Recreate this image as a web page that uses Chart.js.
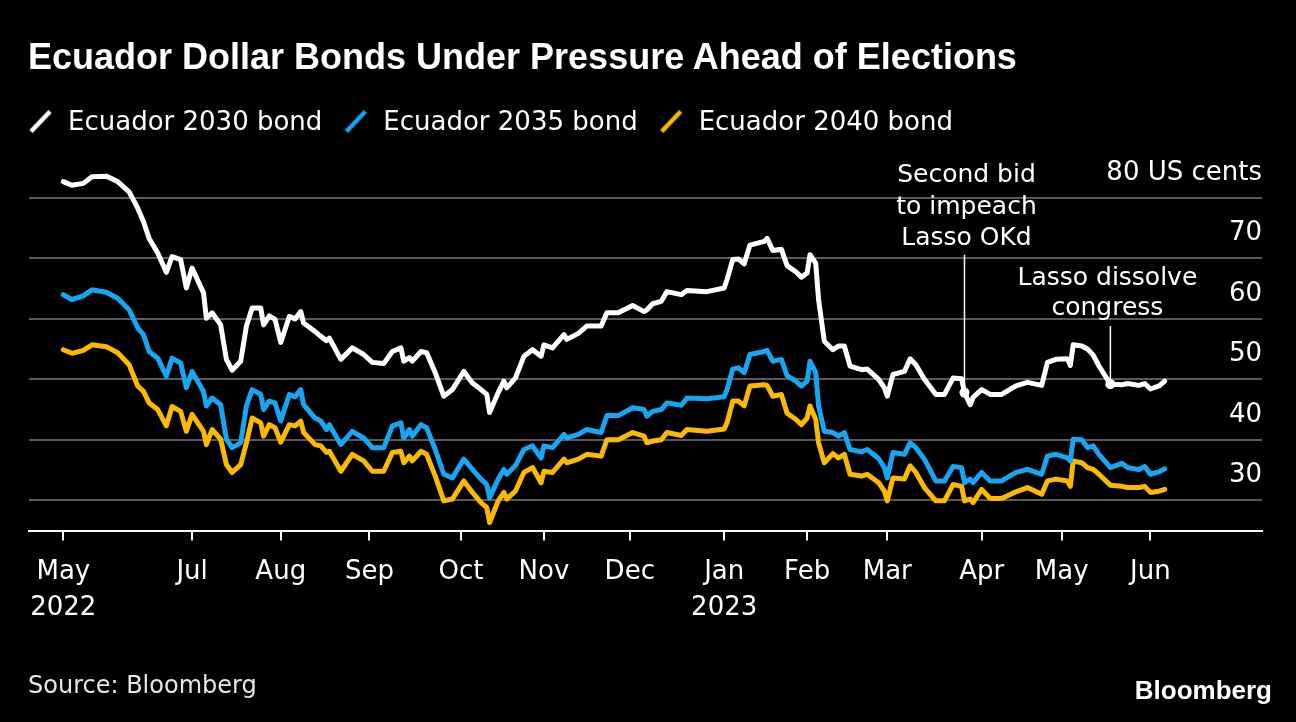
<!DOCTYPE html>
<html>
<head>
<meta charset="utf-8">
<script src="https://cdn.jsdelivr.net/npm/chart.js@4.4.0/dist/chart.umd.min.js"></script>
<style>
  body { margin: 0; background: #000; }
  #wrap { position: relative; width: 1296px; height: 722px; background: #000; overflow: hidden; }
  #title { position: absolute; left: 28px; top: 36px; margin: 0; font: bold 36px/42px "Liberation Sans", Arial, sans-serif; color: #fff; white-space: nowrap; }
  #source { position: absolute; left: 28px; top: 671px; font: 24px/28px "DejaVu Sans", sans-serif; color: #e6e6e6; }
  #logo { position: absolute; right: 24px; top: 676px; font: bold 26px/29px "Liberation Sans", Arial, sans-serif; color: #fff; }
  canvas { position: absolute; left: 0; top: 0; }
</style>
</head>
<body>
<div id="wrap">
  <canvas id="chart" width="1296" height="722"></canvas>
  <h1 id="title">Ecuador Dollar Bonds Under Pressure Ahead of Elections</h1>
  <div id="source">Source: Bloomberg</div>
  <div id="logo">Bloomberg</div>
</div>
<script>
// days since 17 May 2022
const days = [0, 3, 7, 10, 15, 19, 23, 26, 28, 30, 33, 36, 38, 41, 43, 45, 49, 50, 52, 55,
  57, 59, 62, 64, 66, 69, 70, 72, 74, 76, 79, 81, 83, 84, 88,
  90, 92, 93, 97, 101, 105, 108, 112, 115, 118, 119, 121, 122, 125, 127, 130, 133, 136, 140, 143,
  146, 148, 149, 152, 154, 155, 158, 161, 164, 167, 168, 171, 175, 176, 180, 183,
  188, 190, 194, 199, 203, 204, 206, 209, 211, 216, 218, 225, 231, 232, 234, 236, 238, 240, 245, 246,
  248, 251, 253, 256, 258, 260, 261, 263, 264, 266, 269, 271, 273, 275, 279, 281, 285, 287, 288, 290,
  294, 296, 298, 301, 305, 308, 311, 314, 315, 317, 318, 321, 324, 328, 333, 337, 342, 344, 347, 351,
  352, 353, 356, 358, 360, 362, 366, 370, 372, 376, 378, 380, 383, 385];

const bond2030 = [82.7, 82.1, 82.4, 83.5, 83.6, 82.7, 81.0, 78.3, 76.1, 73.3,
  70.9, 67.7, 70.3, 69.8, 65.1, 68.4, 64.3, 60.1, 61.0, 59.0,
  53.3, 51.5, 53.0, 58.8, 61.8, 61.8, 59.0, 60.5, 59.9, 56.1,
  60.4, 60.0, 61.2, 59.3, 57.9,
  57.1, 56.4, 56.8, 53.3, 55.2, 54.1, 52.8, 52.6, 54.6, 55.2,
  53.0, 53.6, 53.0, 54.6, 54.4, 51.1, 47.2, 48.3, 51.3, 49.4,
  48.3, 47.5, 44.5, 47.8, 49.7, 48.6, 50.2, 53.8, 54.9, 53.8,
  55.7, 55.2, 57.4, 56.6, 57.6, 58.8,
  58.8, 61.0, 61.0, 62.2, 61.2, 61.5, 62.5, 62.9, 64.5, 64.0,
  64.7, 64.5, 65.1, 66.5, 69.8, 69.9, 69.1, 72.2, 72.8, 73.3,
  71.3, 71.5, 68.8, 67.8, 66.9, 67.6, 70.6, 69.2, 63.2, 56.3,
  54.9, 55.5, 55.5, 52.2, 51.6, 51.7, 50.0, 48.6, 47.2, 50.8,
  51.3, 53.4, 52.4, 50.0, 47.5, 47.5, 50.2, 50.1, 47.8, 45.8,
  47.0, 48.3, 47.5, 47.5, 48.9, 49.5, 49.0, 52.8, 53.3, 53.4,
  52.3, 55.7, 55.5, 55.0, 54.0, 52.2, 49.2, 49.1, 49.3, 49.0,
  49.3, 48.4, 48.9, 49.7];

const bond2035 = [64.0, 63.2, 63.8, 64.8, 64.4, 63.4, 61.5, 58.5, 57.4, 54.6,
  53.5, 50.5, 53.5, 52.7, 48.6, 51.3, 48.0, 45.6, 46.9, 45.8,
  40.1, 38.7, 39.5, 45.6, 48.3, 47.5, 45.0, 46.4, 46.1, 43.1,
  47.5, 47.1, 48.3, 45.8, 43.6,
  43.1, 41.7, 42.5, 39.2, 41.4, 40.3, 38.7, 38.7, 42.3, 42.8,
  40.3, 41.7, 40.6, 42.5, 42.0, 38.4, 34.3, 33.7, 36.8, 35.1,
  33.5, 32.6, 30.4, 33.5, 35.1, 34.3, 35.7, 38.4, 39.0, 37.0,
  39.0, 38.7, 40.9, 40.3, 40.9, 41.7,
  41.2, 44.0, 44.0, 45.3, 45.0, 43.9, 44.7, 45.0, 46.1, 45.7,
  46.9, 46.8, 47.1, 48.3, 51.7, 51.9, 51.1, 54.1, 54.6, 54.8,
  53.0, 53.3, 50.6, 49.7, 48.9, 49.7, 53.0, 51.1, 45.6, 41.4,
  41.2, 40.6, 41.2, 38.4, 38.0, 38.4, 36.9, 35.4, 33.7, 37.9,
  37.6, 39.5, 38.7, 36.8, 33.2, 33.2, 35.6, 35.4, 32.9, 33.5,
  32.9, 34.6, 33.2, 33.2, 34.6, 35.1, 34.3, 37.3, 37.6, 37.0,
  36.5, 40.1, 40.0, 38.7, 39.0, 37.6, 35.4, 36.1, 35.4, 35.1,
  35.6, 34.3, 34.7, 35.2];

const bond2040 = [54.9, 54.3, 54.8, 55.7, 55.4, 54.4, 52.4, 48.9, 48.0, 46.1,
  45.0, 42.3, 45.5, 44.7, 41.4, 44.2, 41.4, 39.2, 41.7, 40.1,
  35.9, 34.6, 35.9, 39.5, 43.6, 42.8, 40.6, 42.5, 42.0, 39.6,
  42.5, 42.3, 43.1, 41.2, 39.2,
  39.0, 37.9, 38.1, 34.8, 37.6, 36.5, 34.8, 34.8, 37.9, 38.1,
  36.2, 37.3, 36.5, 38.1, 37.6, 34.0, 29.9, 30.2, 33.2, 31.3,
  29.6, 28.8, 26.3, 29.9, 31.3, 30.2, 31.5, 34.6, 35.4, 32.9,
  34.8, 34.6, 36.8, 36.2, 36.8, 37.6,
  37.3, 40.0, 40.0, 41.2, 40.6, 39.5, 39.8, 40.0, 41.2, 40.7,
  41.7, 41.4, 41.8, 42.8, 46.4, 46.4, 45.6, 48.9, 49.1, 49.0,
  47.2, 47.5, 44.4, 43.4, 42.5, 43.6, 45.6, 43.4, 39.5, 36.2,
  37.7, 37.0, 37.6, 34.3, 34.0, 34.3, 32.9, 31.5, 29.9, 33.7,
  33.5, 35.7, 34.6, 32.1, 29.9, 29.9, 32.6, 32.3, 29.9, 30.2,
  29.6, 31.8, 30.3, 30.3, 31.4, 32.1, 31.0, 33.2, 33.5, 33.2,
  32.3, 36.5, 36.2, 35.4, 35.1, 34.3, 32.5, 32.3, 32.1, 32.1,
  32.3, 31.3, 31.5, 31.8];

const seriesNames = ['Ecuador 2030 bond', 'Ecuador 2035 bond', 'Ecuador 2040 bond'];
const seriesColors = ['#ffffff', '#17a6f2', '#fbb900'];

// first tick on the first data point, then first trading day of each month
const tickDays = [0, 45, 76, 107, 139, 168, 198, 231, 260, 288, 321, 349, 380];
const tickLabels = [['May', '2022'], 'Jul', 'Aug', 'Sep', 'Oct', 'Nov', 'Dec', ['Jan', '2023'], 'Feb', 'Mar', 'Apr', 'May', 'Jun'];
const yTicks = [30, 40, 50, 60, 70, 80];

const notes = [
  {day: 315, lines: ['Second bid', 'to impeach', 'Lasso OKd'], textAt: 82.6, gap: 31.5, dx: 2, lineTop: 70.6},
  {day: 366, lines: ['Lasso dissolve', 'congress'], textAt: 65.6, gap: 29.7, dx: -3, lineTop: 58.8}
];

Chart.defaults.font.family = '"DejaVu Sans", sans-serif';
Chart.defaults.color = '#fff';

// legend marker: slanted stroke
function slash(color) {
  const c = document.createElement('canvas');
  c.width = 26;
  c.height = 30;
  const g = c.getContext('2d');
  g.strokeStyle = color;
  g.lineWidth = 4.5;
  g.beginPath();
  g.moveTo(2, 23);
  g.lineTo(21, 3);
  g.stroke();
  return c;
}

const annotate = {
  id: 'annotate',
  afterDatasetsDraw(chart) {
    const {ctx, scales: {x, y}} = chart;
    ctx.save();
    notes.forEach(n => {
      const i = days.indexOf(n.day);
      const px = x.getPixelForValue(n.day);
      const py = y.getPixelForValue(bond2030[i]);
      ctx.strokeStyle = '#fff';
      ctx.lineWidth = 1.5;
      ctx.beginPath();
      ctx.moveTo(px, y.getPixelForValue(n.lineTop));
      ctx.lineTo(px, py);
      ctx.stroke();
      ctx.fillStyle = '#fff';
      ctx.beginPath();
      ctx.arc(px, py, 5, 0, Math.PI * 2);
      ctx.fill();
      ctx.font = '25px "DejaVu Sans"';
      ctx.textAlign = 'center';
      ctx.textBaseline = 'alphabetic';
      const ty = y.getPixelForValue(n.textAt);
      n.lines.forEach((t, k) => ctx.fillText(t, px + n.dx, ty + k * n.gap));
    });
    ctx.restore();
  }
};

const seriesData = [bond2030, bond2035, bond2040];

new Chart('chart', {
  type: 'line',
  data: {
    datasets: seriesData.map((vals, k) => ({
      label: seriesNames[k],
      data: days.map((d, i) => ({x: d, y: vals[i]})),
      borderColor: seriesColors[k],
      backgroundColor: seriesColors[k],
      borderWidth: 5,
      borderJoinStyle: 'round',
      borderCapStyle: 'round',
      pointRadius: 0,
      pointHoverRadius: 0,
      pointStyle: slash(seriesColors[k]),
      tension: 0
    }))
  },
  options: {
    responsive: false,
    animation: false,
    events: [],
    layout: {padding: {top: 88.5, right: 34, bottom: 98.5, left: 7}},
    plugins: {
      legend: {
        position: 'top',
        align: 'start',
        labels: {
          usePointStyle: true,
          pointStyleWidth: 26,
          padding: 22,
          color: '#fff',
          font: {size: 26}
        }
      },
      title: {display: false},
      tooltip: {enabled: false}
    },
    scales: {
      x: {
        type: 'linear',
        min: -12,
        max: 419,
        afterBuildTicks: s => { s.ticks = tickDays.map(v => ({value: v})); },
        afterFit: s => { s.height = 93; },
        grid: {drawOnChartArea: false, drawTicks: true, tickLength: 10, color: '#fff', lineWidth: 2},
        border: {display: true, color: '#fff', width: 2},
        ticks: {
          autoSkip: false,
          maxRotation: 0,
          padding: 14,
          color: '#fff',
          font: {size: 26, lineHeight: 1.38},
          callback: (v, i) => tickLabels[i]
        }
      },
      y: {
        type: 'linear',
        position: 'right',
        min: 25,
        max: 88.5,
        afterBuildTicks: s => { s.ticks = yTicks.map(v => ({value: v})); },
        grid: {color: '#5a5a5a', lineWidth: 2, drawTicks: false},
        border: {display: false},
        ticks: {
          mirror: true,
          padding: 0,
          labelOffset: -25,
          color: '#fff',
          font: {size: 26},
          callback: v => v === 80 ? '80 US cents' : v
        }
      },
      pad: {
        type: 'linear',
        axis: 'y',
        position: 'left',
        grid: {display: false},
        border: {display: false},
        ticks: {display: false},
        afterFit: s => { s.width = 22; }
      }
    }
  },
  plugins: [annotate]
});
</script>
</body>
</html>
